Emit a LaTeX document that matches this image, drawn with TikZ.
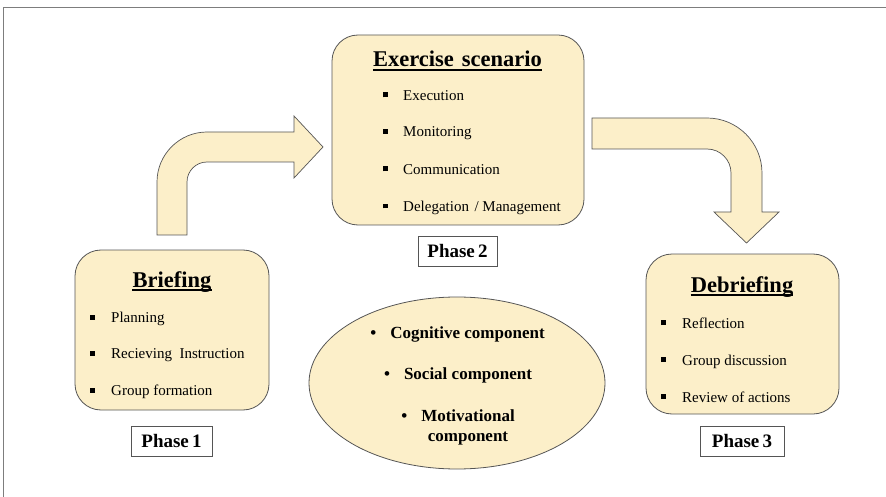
\documentclass[tikz,border=0pt]{standalone}
\usepackage{fontspec}
\setmainfont{Liberation Serif}
\usetikzlibrary{shapes.geometric}
\definecolor{paleyellow}{RGB}{252,239,201}
\definecolor{edgegray}{RGB}{85,85,85}
\definecolor{framegray}{RGB}{125,125,125}
\newcommand{\sqbul}{\rule[3pt]{5pt}{5pt}}
\begin{document}
\begin{tikzpicture}[x=1pt,y=-1pt,
  stagebox/.style={draw=edgegray,line width=0.8pt,fill=paleyellow,rounded corners=26pt,inner sep=0pt},
  bentarrow/.style={draw=edgegray,line width=0.7pt,fill=paleyellow},
  phasebox/.style={draw=edgegray,line width=0.8pt,fill=white,inner sep=0pt,minimum height=30pt,
    font=\fontsize{19}{22}\selectfont\bfseries},
  title/.style={inner sep=0pt,anchor=base,font=\fontsize{22.5}{26}\selectfont\bfseries},
  titleline/.style={line width=1.2pt},
  item/.style={inner sep=0pt,anchor=base west,font=\fontsize{15}{18}\selectfont},
  comp/.style={inner sep=0pt,anchor=base,font=\fontsize{17}{20}\selectfont\bfseries}]
\useasboundingbox (0,0) rectangle (886,497);

% outer frame, cut off on the right and at the bottom
\coordinate (fbl) at (3.5,497);
\coordinate (ftl) at (3.5,7.5);
\coordinate (ftr) at (886,7.5);
\draw[framegray,line width=0.9pt] (fbl) -- (ftl) -- (ftr);

% bent arrows between the stages
\path[bentarrow] (157,235) -- (157,182) arc[start angle=180,end angle=270,radius=50]
  -- (294,132) -- (294,116) -- (323,147) -- (294,178) -- (294,162) -- (207,162)
  arc[start angle=270,end angle=180,radius=20] -- (187,235) -- cycle;
\path[bentarrow] (592,118) -- (707,118) arc[start angle=270,end angle=360,radius=55]
  -- (762,212) -- (779,212) -- (746.5,243) -- (714,212) -- (731,212) -- (731,173)
  arc[start angle=0,end angle=-90,radius=24] -- (592,149) -- cycle;

% stage boxes
\node[stagebox,minimum width=194pt,minimum height=160pt] (brief) at (172,330) {};
\node[stagebox,minimum width=252pt,minimum height=190pt] (exer) at (458,130) {};
\node[stagebox,minimum width=193pt,minimum height=160pt] (debrief) at (742.5,334) {};

% Briefing
\node[title] (tbrief) at (172,287) {Briefing};
\draw[titleline] ([yshift=-3pt]tbrief.base west) -- ([yshift=-3pt]tbrief.base east);
\node[item] (b1) at (89.5,322.5) {\makebox[21.5pt][l]{\sqbul}Planning};
\node[item] (b2) at (89.5,358.5) {\makebox[21.5pt][l]{\sqbul}Recieving\ \ Instruction};
\node[item] (b3) at (89.5,395.5) {\makebox[21.5pt][l]{\sqbul}Group formation};

% Exercise scenario
\node[title] (texer) at (457.5,67) {Exercise\hspace{8pt}scenario};
\draw[titleline] ([yshift=-3pt]texer.base west) -- ([yshift=-3pt]texer.base east);
\node[item] (e1) at (382.5,100.5) {\makebox[20.5pt][l]{\sqbul}Execution};
\node[item] (e2) at (382.5,137) {\makebox[20.5pt][l]{\sqbul}Monitoring};
\node[item] (e3) at (382.5,174.5) {\makebox[20.5pt][l]{\sqbul}Communication};
\node[item] (e4) at (382.5,211.5) {\makebox[20.5pt][l]{\sqbul}Delegation\hspace{5.5pt}/ Management};

% Debriefing
\node[title] (tdebrief) at (742,292) {Debriefing};
\draw[titleline] ([yshift=-3pt]tdebrief.base west) -- ([yshift=-3pt]tdebrief.base east);
\node[item] (d1) at (660.5,328) {\makebox[21.5pt][l]{\sqbul}Reflection};
\node[item] (d2) at (660.5,365) {\makebox[21.5pt][l]{\sqbul}Group discussion};
\node[item] (d3) at (660.5,402) {\makebox[21.5pt][l]{\sqbul}Review of actions};

% phase labels
\node[phasebox,minimum width=81pt] (p1) at (171.5,441) {Phase\,1};
\node[phasebox,minimum width=79pt] (p2) at (457.5,251) {Phase\,2};
\node[phasebox,minimum width=84pt] (p3) at (742,441) {Phase\,3};

% learning components
\node[draw=edgegray,line width=0.8pt,fill=paleyellow,ellipse,minimum width=296pt,minimum height=172pt,inner sep=0pt] (comps) at (457,383) {};
\node[comp] (c1) at (457.5,338) {\makebox[20pt][l]{\textbullet}Cognitive component};
\node[comp] (c2) at (458,379.5) {\makebox[20pt][l]{\textbullet}Social component};
\node[comp] (c3) at (458,421) {\makebox[20pt][l]{\textbullet}Motivational};
\node[comp] (c4) at (468,441.5) {component};
\end{tikzpicture}
\end{document}
